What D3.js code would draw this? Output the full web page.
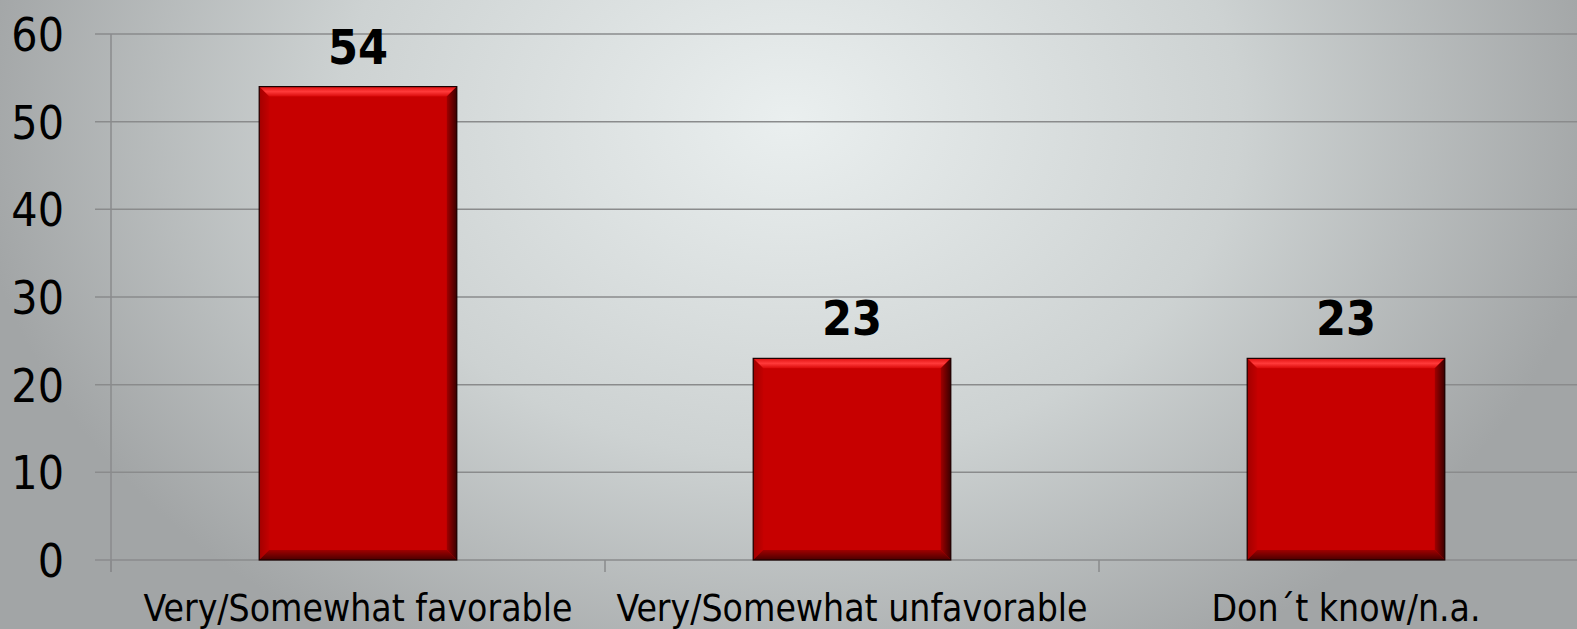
<!DOCTYPE html>
<html>
<head>
<meta charset="utf-8">
<script src="https://cdn.jsdelivr.net/npm/d3@7"></script>
<style>
  html, body { margin: 0; padding: 0; overflow: hidden; }
  svg { display: block; font-family: "DejaVu Sans Condensed", "DejaVu Sans", sans-serif; font-stretch: condensed; }
</style>
</head>
<body>
<svg width="1577" height="629"></svg>
<script>
"use strict";

var categories = ["Very/Somewhat favorable", "Very/Somewhat unfavorable", "Don\u00b4t know/n.a."];
var values = [54, 23, 23];
var yTicks = [0, 10, 20, 30, 40, 50, 60];

var svg = d3.select("svg"),
  width = +svg.attr("width"),
  height = +svg.attr("height");

var defs = svg.append("defs");

var bg = defs.append("radialGradient")
  .attr("id", "bg")
  .attr("gradientUnits", "userSpaceOnUse")
  .attr("cx", 790).attr("cy", 120).attr("r", 820)
  .attr("gradientTransform", "translate(790,120) scale(1,0.75) translate(-790,-120)");
bg.append("stop").attr("offset", "0").attr("stop-color", "#eaefef");
bg.append("stop").attr("offset", "0.55").attr("stop-color", "#cdd2d2");
bg.append("stop").attr("offset", "1").attr("stop-color", "#a2a5a6");

var topBevel = defs.append("linearGradient").attr("id", "topBevel")
  .attr("x1", 0).attr("y1", 0).attr("x2", 0).attr("y2", 1);
topBevel.append("stop").attr("offset", "0").attr("stop-color", "#e01010");
topBevel.append("stop").attr("offset", "0.5").attr("stop-color", "#ff3a3a");
topBevel.append("stop").attr("offset", "1").attr("stop-color", "#d80808");

var rightBevel = defs.append("linearGradient").attr("id", "rightBevel")
  .attr("x1", 0).attr("y1", 0).attr("x2", 1).attr("y2", 0);
rightBevel.append("stop").attr("offset", "0").attr("stop-color", "#a00000");
rightBevel.append("stop").attr("offset", "1").attr("stop-color", "#3a0000");

var bottomBevel = defs.append("linearGradient").attr("id", "bottomBevel")
  .attr("x1", 0).attr("y1", 0).attr("x2", 0).attr("y2", 1);
bottomBevel.append("stop").attr("offset", "0").attr("stop-color", "#a00000");
bottomBevel.append("stop").attr("offset", "1").attr("stop-color", "#4a0000");

var leftBevel = defs.append("linearGradient").attr("id", "leftBevel")
  .attr("x1", 0).attr("y1", 0).attr("x2", 1).attr("y2", 0);
leftBevel.append("stop").attr("offset", "0").attr("stop-color", "#8a0000");
leftBevel.append("stop").attr("offset", "1").attr("stop-color", "#c00000");

svg.append("rect")
  .attr("width", width)
  .attr("height", height)
  .attr("fill", "url(#bg)");

var x0 = 111, x1 = 1593, yTop = 34, yBot = 560;

var x = d3.scaleBand()
  .domain(categories)
  .range([x0, x1])
  .padding(0);

var y = d3.scaleLinear()
  .domain([0, 60])
  .range([yBot, yTop]);

var barW = x.bandwidth() * 0.4;

// gridlines
svg.append("g")
  .selectAll("line")
  .data(yTicks)
  .enter().append("line")
  .attr("x1", x0 - 16)
  .attr("x2", width)
  .attr("y1", function (d) { return y(d); })
  .attr("y2", function (d) { return y(d); })
  .attr("stroke", "#8a8b8c")
  .attr("stroke-width", 1.5);

// y axis line
svg.append("line")
  .attr("x1", x0).attr("x2", x0)
  .attr("y1", yTop).attr("y2", yBot + 12)
  .attr("stroke", "#8a8b8c")
  .attr("stroke-width", 1.5);

// category ticks
svg.append("g")
  .selectAll("line")
  .data(categories)
  .enter().append("line")
  .attr("x1", function (d) { return x(d); })
  .attr("x2", function (d) { return x(d); })
  .attr("y1", yBot)
  .attr("y2", yBot + 12)
  .attr("stroke", "#8a8b8c")
  .attr("stroke-width", 1.5);

// y tick labels
svg.append("g")
  .selectAll("text")
  .data(yTicks)
  .enter().append("text")
  .attr("x", 64)
  .attr("y", function (d) { return y(d) + 17; })
  .attr("text-anchor", "end")
  .attr("font-size", 46)
  .attr("fill", "#000")
  .text(function (d) { return d; });

// bars
var bev = 10;
var bar = svg.append("g")
  .selectAll("g")
  .data(values)
  .enter().append("g");

function bx(d, i) { return x(categories[i]) + (x.bandwidth() - barW) / 2; }

bar.append("rect")
  .attr("x", bx)
  .attr("y", function (d) { return y(d); })
  .attr("width", barW)
  .attr("height", function (d) { return yBot - y(d); })
  .attr("fill", "#c70000");

bar.append("polygon")
  .attr("fill", "url(#topBevel)")
  .attr("points", function (d, i) {
    var l = bx(d, i), r = l + barW, t = y(d);
    return [[l, t], [r, t], [r - bev, t + bev], [l + bev, t + bev]].join(" ");
  });

bar.append("polygon")
  .attr("fill", "url(#leftBevel)")
  .attr("opacity", 0.6)
  .attr("points", function (d, i) {
    var l = bx(d, i), t = y(d);
    return [[l, t], [l + bev, t + bev], [l + bev, yBot - bev], [l, yBot]].join(" ");
  });

bar.append("polygon")
  .attr("fill", "url(#rightBevel)")
  .attr("points", function (d, i) {
    var r = bx(d, i) + barW, t = y(d);
    return [[r, t], [r, yBot], [r - bev, yBot - bev], [r - bev, t + bev]].join(" ");
  });

bar.append("polygon")
  .attr("fill", "url(#bottomBevel)")
  .attr("points", function (d, i) {
    var l = bx(d, i), r = l + barW;
    return [[l, yBot], [r, yBot], [r - bev, yBot - bev], [l + bev, yBot - bev]].join(" ");
  });

bar.append("rect")
  .attr("x", bx)
  .attr("y", function (d) { return y(d); })
  .attr("width", barW)
  .attr("height", function (d) { return yBot - y(d); })
  .attr("fill", "none")
  .attr("stroke", "#1a0000")
  .attr("stroke-width", 1.2);

// value labels
bar.append("text")
  .attr("x", function (d, i) { return x(categories[i]) + x.bandwidth() / 2; })
  .attr("y", function (d) { return y(d) - 23; })
  .attr("text-anchor", "middle")
  .attr("font-size", 48)
  .attr("font-weight", "bold")
  .attr("fill", "#000")
  .text(function (d) { return d; });

// category labels
svg.append("g")
  .selectAll("text")
  .data(categories)
  .enter().append("text")
  .attr("x", function (d) { return x(d) + x.bandwidth() / 2; })
  .attr("y", 621)
  .attr("text-anchor", "middle")
  .attr("font-size", 37)
  .attr("fill", "#000")
  .text(function (d) { return d; });
</script>
</body>
</html>
